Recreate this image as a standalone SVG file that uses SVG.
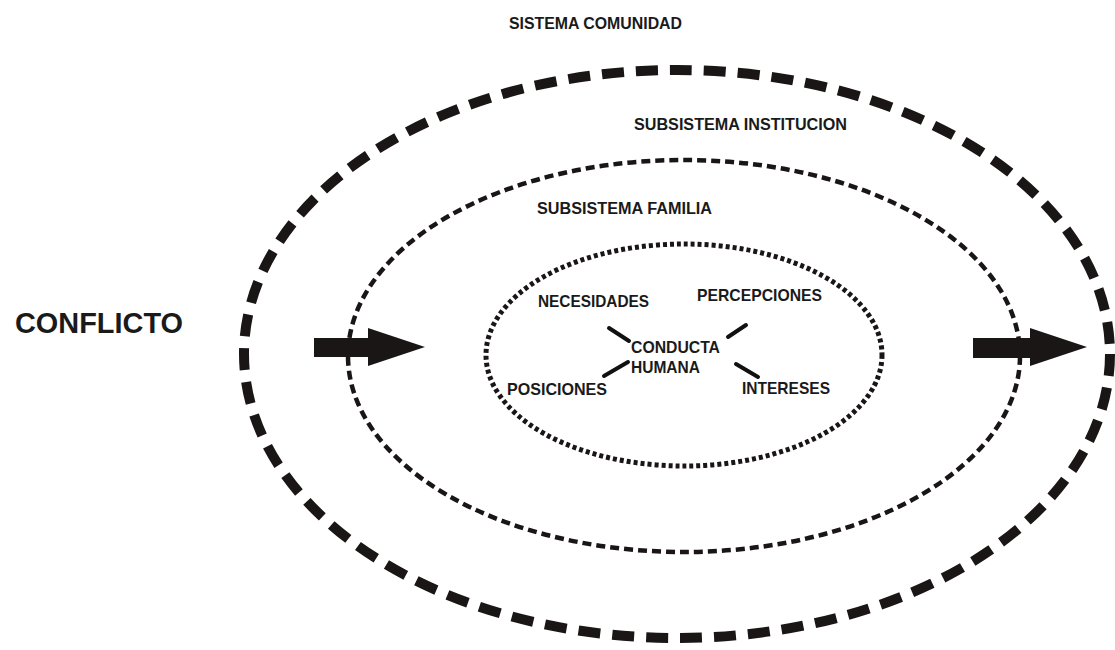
<svg xmlns="http://www.w3.org/2000/svg" width="1115" height="650" viewBox="0 0 1115 650">
  <style>
    .lbl { font-family: "Liberation Sans", Arial, sans-serif; font-weight: bold; fill: #1a1a1a; }
    .sm { font-size: 17px; }
    .md { font-size: 16px; }
    .ring { fill: none; stroke: #1a1616; }
    .tie { stroke: #111; stroke-width: 4; stroke-linecap: round; }
    .arrow { fill: #1a1616; }
  </style>
  <rect width="1115" height="650" fill="#ffffff"/>

  <!-- community system: outer heavy dashed ring -->
  <g id="sistema-comunidad">
    <ellipse class="ring" cx="677" cy="354" rx="433" ry="284" stroke-width="10" stroke-dasharray="22 12"/>
    <text class="lbl md" x="509" y="29" textLength="173" lengthAdjust="spacingAndGlyphs">SISTEMA COMUNIDAD</text>
  </g>

  <!-- institution subsystem: middle dashed ring -->
  <g id="subsistema-institucion">
    <ellipse class="ring" cx="684" cy="356" rx="336" ry="196" stroke-width="4.5" stroke-dasharray="9 5"/>
    <text class="lbl md" x="634" y="130" textLength="213" lengthAdjust="spacingAndGlyphs">SUBSISTEMA INSTITUCION</text>
  </g>

  <!-- family subsystem: inner dotted ring -->
  <g id="subsistema-familia">
    <ellipse class="ring" cx="684" cy="355" rx="198" ry="111" stroke-width="5" stroke-dasharray="4 3"/>
    <text class="lbl md" x="537" y="214" textLength="175" lengthAdjust="spacingAndGlyphs">SUBSISTEMA FAMILIA</text>
  </g>

  <g id="conflicto">
    <text class="lbl" x="15" y="333" font-size="29" textLength="168" lengthAdjust="spacingAndGlyphs">CONFLICTO</text>
  </g>

  <g id="conducta-humana">
    <text class="lbl sm" x="631" y="353" textLength="89" lengthAdjust="spacingAndGlyphs">CONDUCTA</text>
    <text class="lbl sm" x="631" y="373" textLength="69" lengthAdjust="spacingAndGlyphs">HUMANA</text>
  </g>
  <g id="necesidades">
    <text class="lbl sm" x="538" y="307" textLength="111" lengthAdjust="spacingAndGlyphs">NECESIDADES</text>
  </g>
  <g id="percepciones">
    <text class="lbl sm" x="697" y="301" textLength="125" lengthAdjust="spacingAndGlyphs">PERCEPCIONES</text>
  </g>
  <g id="posiciones">
    <text class="lbl sm" x="507" y="395" textLength="100" lengthAdjust="spacingAndGlyphs">POSICIONES</text>
  </g>
  <g id="intereses">
    <text class="lbl sm" x="742" y="394" textLength="88" lengthAdjust="spacingAndGlyphs">INTERESES</text>
  </g>

  <g id="connectors">
    <line class="tie" x1="609" y1="328" x2="629" y2="341"/>
    <line class="tie" x1="728" y1="337" x2="746" y2="325"/>
    <line class="tie" x1="604" y1="376" x2="628" y2="362"/>
    <line class="tie" x1="736" y1="364" x2="758" y2="377"/>
    <!-- entry and exit arrows -->
    <polygon class="arrow" points="314,338 368,338 368,328 425,347 368,366 368,357 314,357"/>
    <polygon class="arrow" points="973,338 1030,338 1030,328 1087,347 1030,366 1030,358 973,358"/>
  </g>
</svg>
